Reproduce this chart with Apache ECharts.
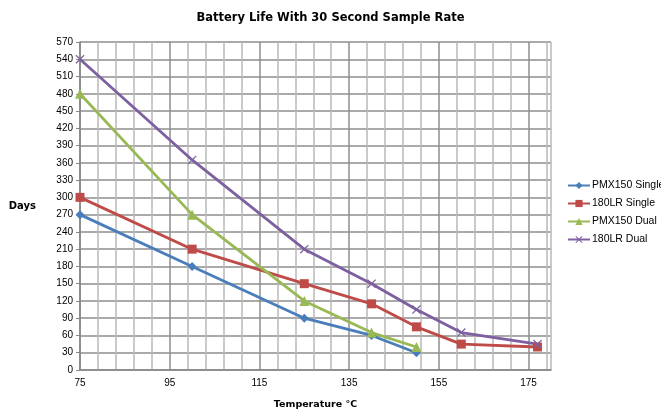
<!DOCTYPE html>
<html><head><meta charset="utf-8">
<script src="https://cdn.jsdelivr.net/npm/echarts@6/dist/echarts.min.js"></script>
<style>html,body{margin:0;padding:0;background:#fff}#c{width:661px;height:415px}</style>
</head><body><div id="c"></div>
<script>
var seriesNames = ['PMX150 Single', '180LR Single', 'PMX150 Dual', '180LR Dual'];
var pmx150SingleT = [75, 100, 125, 140, 150];
var pmx150SingleDays = [270, 180, 90, 60, 30];
var lr180SingleT = [75, 100, 125, 140, 150, 160, 177];
var lr180SingleDays = [300, 210, 150, 115, 75, 45, 40];
var pmx150DualT = [75, 100, 125, 140, 150];
var pmx150DualDays = [480, 270, 120, 65, 40];
var lr180DualT = [75, 100, 125, 140, 150, 160, 177];
var lr180DualDays = [540, 365, 210, 150, 105, 65, 45];
var xLabelTicks = [75, 95, 115, 135, 155, 175];

function pairs(xs, ys){ return xs.map(function(x,i){return [x, ys[i]];}); }
var colors = ['#4A7EBB', '#BE4B48', '#98B954', '#7D60A0'];
var xSym = 'path://M1,0L5,4L9,0L10,1L6,5L10,9L9,10L5,6L1,10L0,9L4,5L0,1Z';
var font = 'Liberation Sans';
var chart = echarts.init(document.getElementById('c'), null, {renderer:'canvas'});
function mk(name, data, color, symbol, size){
  return {name:name, type:'line', data:data, color:color, symbol:symbol, symbolSize:size,
    showSymbol:true, lineStyle:{width:2.8, color:color}, itemStyle:{color:color}, animation:false};
}
chart.setOption({
  animation:false,
  title:{text:'Battery Life With 30 Second Sample Rate', left:'center', top:7,
    textStyle:{fontFamily:'DejaVu Sans', fontSize:11.5, fontWeight:'bold', color:'#000'}},
  grid:{left:80, right:110, top:42, bottom:44, containLabel:false},
  legend:{orient:'vertical', left:562, top:175, itemGap:7, itemWidth:22, itemHeight:9,
    textStyle:{fontFamily:font, fontSize:10.5, color:'#000', padding:[0,0,0,-3]},
    data:seriesNames},
  xAxis:{type:'value', min:75, max:180, interval:4,
    name:'Temperature °C', nameLocation:'middle', nameGap:30,
    nameTextStyle:{fontFamily:'DejaVu Sans', fontSize:9.5, fontWeight:'bold', color:'#000'},
    axisLine:{show:true, lineStyle:{color:'#868686', width:1.5}},
    axisTick:{show:false},
    axisLabel:{fontFamily:font, fontSize:10, color:'#000', margin:8,
      formatter:function(v){ return xLabelTicks.indexOf(v) >= 0 ? String(v) : ''; }},
    splitLine:{show:true, lineStyle:{color:['#8e8e8e','#b8b8b8','#b8b8b8','#b8b8b8','#b8b8b8'], width:1.5}}
  },
  yAxis:{type:'value', min:0, max:570, interval:30,
    name:'Days', nameLocation:'middle', nameGap:44, nameRotate:0,
    nameTextStyle:{fontFamily:'DejaVu Sans', fontSize:10, fontWeight:'bold', color:'#000'},
    axisLine:{show:true, lineStyle:{color:'#868686', width:1.5}},
    axisTick:{show:true, length:4, lineStyle:{color:'#868686'}},
    axisLabel:{fontFamily:font, fontSize:10, color:'#000', margin:7},
    splitLine:{show:true, lineStyle:{color:'#8e8e8e', width:1.5}}
  },
  series:[
    mk(seriesNames[0], pairs(pmx150SingleT, pmx150SingleDays), colors[0], 'diamond', 9),
    mk(seriesNames[1], pairs(lr180SingleT, lr180SingleDays), colors[1], 'rect', 9),
    mk(seriesNames[2], pairs(pmx150DualT, pmx150DualDays), colors[2], 'triangle', 10),
    mk(seriesNames[3], pairs(lr180DualT, lr180DualDays), colors[3], xSym, 9)
  ]
});
</script></body></html>
